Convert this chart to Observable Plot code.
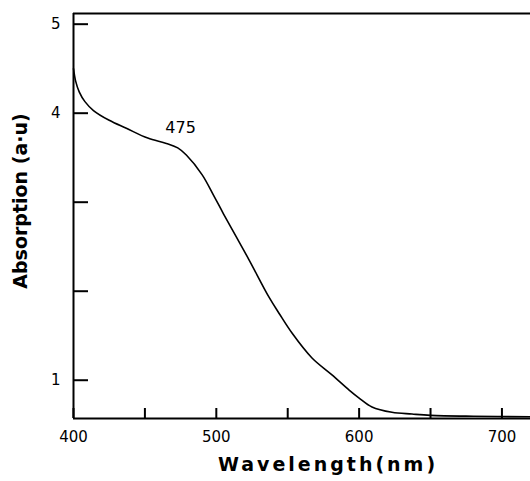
<!DOCTYPE html>
<html>
<head>
<meta charset="utf-8">
<script src="https://cdn.jsdelivr.net/npm/d3@7"></script>
<script src="https://cdn.jsdelivr.net/npm/@observablehq/plot@0.6"></script>
<style>
  html, body { margin: 0; padding: 0; background: #fff; }
  #chart svg { display: block; }
</style>
</head>
<body>
<div id="chart"></div>
<script>
const wavelength = [400, 401.5, 404, 408, 414, 425, 437, 452, 465, 473, 479, 490, 498, 505, 514, 523, 537, 544, 553, 567, 581, 593, 600, 609, 623, 637, 650, 680, 720];
const absorption = [4.50, 4.36, 4.24, 4.13, 4.03, 3.92, 3.83, 3.72, 3.66, 3.61, 3.53, 3.31, 3.08, 2.87, 2.61, 2.35, 1.93, 1.75, 1.53, 1.25, 1.06, 0.89, 0.80, 0.70, 0.64, 0.62, 0.605, 0.595, 0.59];
const xTicksLabeled = [400, 500, 600, 700];
const xTicksMinor = [450, 550, 650];
const yTicks = [1, 2, 3, 4, 5];
const yTickLabels = [1, 4, 5];
const peakLabel = [{x: 475, y: 3.83, text: "475"}];
const xTitle = "Wavelength(nm)";
const yTitle = "Absorption (a·u)";
const xDomain = [400, 720];
const yDomain = [0.57, 5.12];

const data = wavelength.map((w, i) => ({w, a: absorption[i]}));
const font = "DejaVu Sans, sans-serif";

const chart = Plot.plot({
  width: 530,
  height: 481,
  marginLeft: 73,
  marginRight: 0,
  marginTop: 13,
  marginBottom: 63,
  style: {fontFamily: font, background: "#fff", color: "#000"},
  x: {domain: xDomain, axis: null},
  y: {domain: yDomain, axis: null},
  marks: [
    Plot.ruleX([xDomain[0]], {stroke: "#000", strokeWidth: 2}),
    Plot.ruleY([yDomain[0]], {stroke: "#000", strokeWidth: 2}),
    Plot.ruleY([yDomain[1]], {stroke: "#000", strokeWidth: 2}),
    Plot.axisY(yTicks, {anchor: "left", tickSize: -15, strokeWidth: 2, tickFormat: () => ""}),
    Plot.axisY(yTickLabels, {anchor: "left", tickSize: 0, tickPadding: 13, fontSize: 15, tickFormat: d => String(d)}),
    Plot.axisX([...xTicksLabeled, ...xTicksMinor], {anchor: "bottom", tickSize: -10, strokeWidth: 2, tickFormat: () => ""}),
    Plot.axisX(xTicksLabeled, {anchor: "bottom", tickSize: 0, tickPadding: 13, fontSize: 15, tickFormat: d => String(d)}),
    Plot.line(data, {x: "w", y: "a", curve: "catmull-rom", stroke: "#000", strokeWidth: 1.6}),
    Plot.text(peakLabel, {x: "x", y: "y", text: "text", fontSize: 16}),
    Plot.text([xTitle], {frameAnchor: "bottom", dx: 26, dy: 52, fontSize: 19, fontWeight: "bold"}),
    Plot.text([yTitle], {frameAnchor: "left", textAnchor: "middle", dx: -53, dy: -15, rotate: -90, fontSize: 19, fontWeight: "bold"})
  ]
});
chart.querySelectorAll("text").forEach(t => {
  if (t.textContent === xTitle) t.setAttribute("letter-spacing", "3px");
});
document.getElementById("chart").appendChild(chart);
</script>
</body>
</html>
